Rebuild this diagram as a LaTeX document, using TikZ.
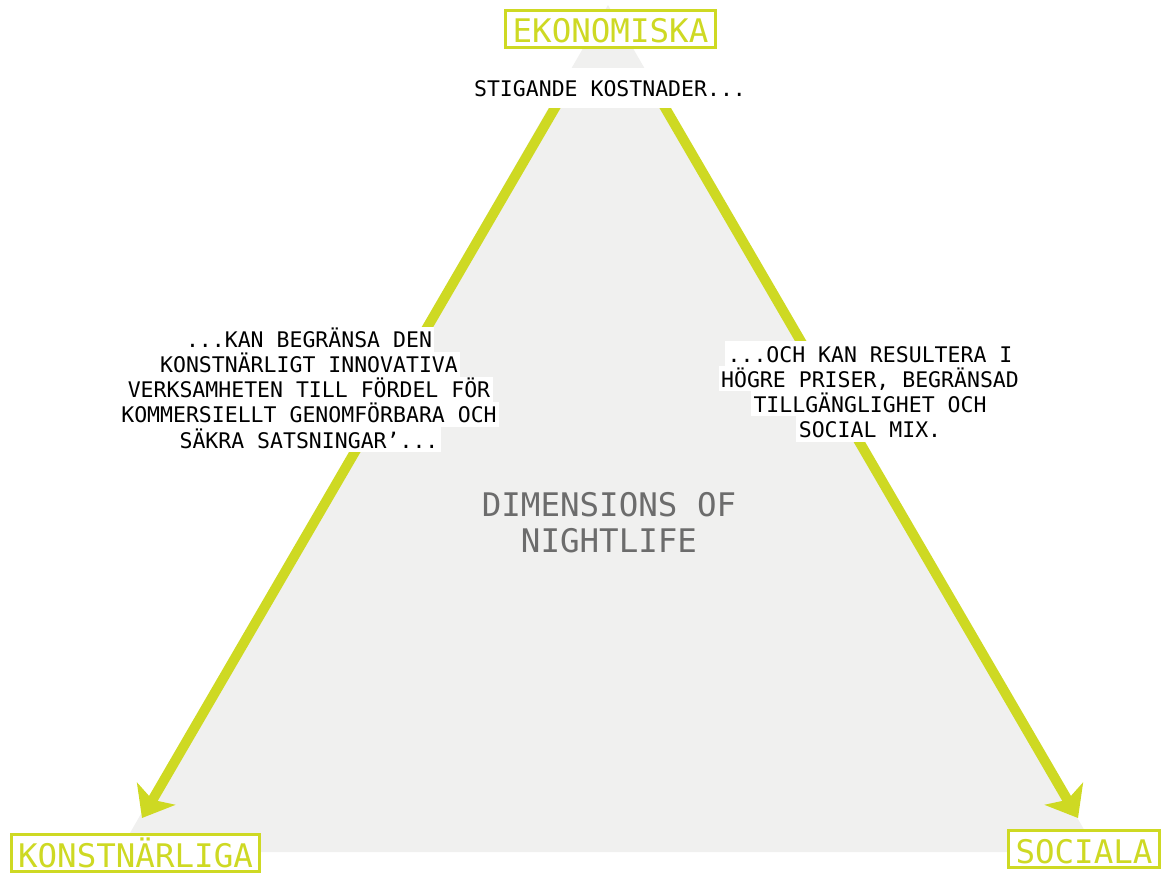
\documentclass[tikz,border=0pt]{standalone}
\usepackage{fontspec}
\setmainfont{DejaVu Sans Mono}
\usetikzlibrary{positioning}
\usetikzlibrary{arrows.meta}
\definecolor{nightgreen}{RGB}{206,217,35}
\definecolor{nightgrey}{RGB}{240,240,239}
\definecolor{nighttext}{RGB}{108,108,108}

\begin{document}
\begin{tikzpicture}[x=1pt,y=-1pt,
  dimbox/.style={draw=nightgreen,line width=3pt,fill=white,text=nightgreen,font=\fontsize{32.5}{36}\selectfont,text height=28pt,text depth=0pt,minimum height=37pt,inner xsep=7pt},
  noteline/.style={fill=white,font=\fontsize{21.5}{25}\selectfont,text height=21pt,text depth=4pt,minimum height=25pt,inner ysep=0pt,inner xsep=2.5pt,outer sep=0pt},
  push/.style={draw=nightgreen,line width=10pt,-{Stealth[length=28pt,width=44pt,inset=7pt]}}]
  \useasboundingbox (0,0) rectangle (1162,874);
  \fill[nightgrey] (608,5) -- (119,852) -- (1097,852) -- cycle;
  \coordinate (ltop) at (574,75);
  \coordinate (ltip) at (142,818);
  \coordinate (rtop) at (646,75);
  \coordinate (rtip) at (1078,818);
  \draw[push] (ltop) -- (ltip);
  \draw[push] (rtop) -- (rtip);
  \node[dimbox] (eko) at (610.5,29) {EKONOMISKA};
  \node[dimbox] (kon) at (135.5,853) {KONSTNÄRLIGA};
  \node[dimbox] (soc) at (1084,849) {SOCIALA};
  \node[noteline,inner ysep=7.5pt,inner xsep=3pt] (cost) at (610,88) {STIGANDE KOSTNADER...};
  \node[noteline] (k1) at (309,339.5) {...KAN BEGRÄNSA DEN\ };
  \node[noteline,below=0pt of k1] (k2) {KONSTNÄRLIGT INNOVATIVA};
  \node[noteline,below=0pt of k2] (k3) {VERKSAMHETEN TILL FÖRDEL FÖR};
  \node[noteline,below=0pt of k3] (k4) {KOMMERSIELLT GENOMFÖRBARA OCH};
  \node[noteline,below=0pt of k4] (k5) {SÄKRA SATSNINGAR’...};
  \node[noteline] (s1) at (870,354) {...OCH KAN RESULTERA I};
  \node[noteline,below=0pt of s1] (s2) {HÖGRE PRISER, BEGRÄNSAD};
  \node[noteline,below=0pt of s2] (s3) {TILLGÄNGLIGHET OCH};
  \node[noteline,below=0pt of s3] (s4) {SOCIAL MIX.};
  \node[text=nighttext,font=\fontsize{32.5}{36}\selectfont,align=center] (dim) at (609,523) {DIMENSIONS OF\\NIGHTLIFE};
\end{tikzpicture}
\end{document}
